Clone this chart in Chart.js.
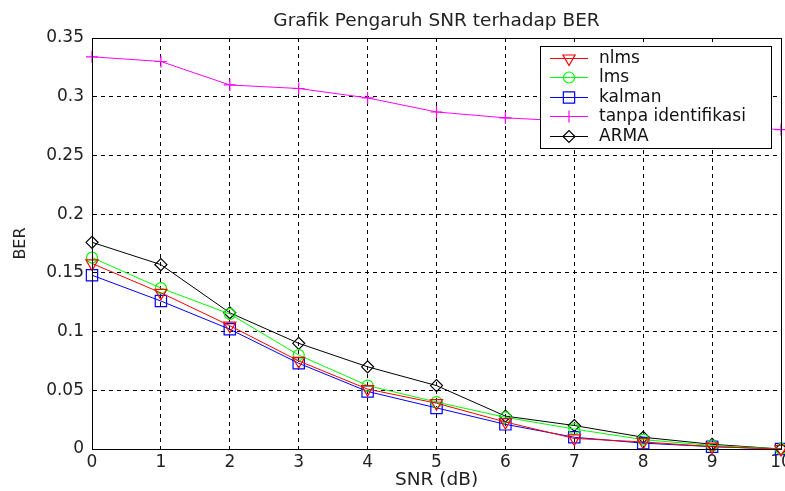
<!DOCTYPE html>
<html>
<head>
<meta charset="utf-8">
<script src="https://cdn.jsdelivr.net/npm/chart.js@4/dist/chart.umd.min.js"></script>
<style>
  html, body { margin: 0; padding: 0; background: #fff; }
  #wrap { width: 785px; height: 491px; }
</style>
</head>
<body>
<div id="wrap"><canvas id="c" width="785" height="491"></canvas></div>
<script>
const snr = [0, 1, 2, 3, 4, 5, 6, 7, 8, 9, 10];
const nlms = [0.158, 0.133, 0.105, 0.075, 0.051, 0.039, 0.023, 0.009, 0.006, 0.002, 0.000];
const lms = [0.163, 0.137, 0.115, 0.080, 0.054, 0.040, 0.027, 0.017, 0.008, 0.003, 0.000];
const kalman = [0.148, 0.126, 0.102, 0.073, 0.049, 0.035, 0.021, 0.010, 0.005, 0.002, 0.000];
const tanpa = [0.334, 0.330, 0.310, 0.307, 0.299, 0.287, 0.282, 0.279, 0.277, 0.275, 0.272];
const arma = [0.176, 0.157, 0.116, 0.090, 0.070, 0.054, 0.028, 0.020, 0.010, 0.004, 0.000];
const yTickLabels = ['0', '0.05', '0.1', '0.15', '0.2', '0.25', '0.3', '0.35'];
const xTickLabels = ['0', '1', '2', '3', '4', '5', '6', '7', '8', '9', '10'];
const seriesNames = ['nlms', 'lms', 'kalman', 'tanpa identifikasi', 'ARMA'];

const FONT = 'DejaVu Sans';

function pts(arr) { return snr.map((x, i) => ({ x: x, y: arr[i] })); }

function ds(label, arr, color, style, rot, radius) {
  return {
    label: label,
    data: pts(arr),
    borderColor: color,
    backgroundColor: 'rgba(0,0,0,0)',
    borderWidth: 1,
    pointStyle: style,
    rotation: rot,
    pointRadius: radius,
    pointHoverRadius: radius,
    pointBorderColor: color,
    pointBackgroundColor: 'rgba(0,0,0,0)',
    pointBorderWidth: 1.2,
    tension: 0,
    fill: false,
    clip: false
  };
}

const boxPlugin = {
  id: 'box',
  afterDraw(chart) {
    const { ctx, chartArea: a } = chart;
    ctx.save();
    ctx.strokeStyle = '#000';
    ctx.lineWidth = 1;
    ctx.strokeRect(Math.round(a.left) + 0.5, Math.round(a.top) + 0.5,
                   Math.round(a.right - a.left), Math.round(a.bottom - a.top));
    // legend box
    const lx = 540, ly = 46, lw = 231, lh = 102;
    ctx.fillStyle = '#fff';
    ctx.fillRect(lx, ly, lw, lh);
    ctx.strokeStyle = '#000';
    ctx.strokeRect(lx + 0.5, ly + 0.5, lw, lh);
    const rows = [58, 77, 97, 116, 136];
    chart.data.datasets.forEach((d, i) => {
      const y = rows[i];
      ctx.strokeStyle = d.borderColor;
      ctx.lineWidth = 1;
      ctx.beginPath();
      ctx.moveTo(550, y + 0.5);
      ctx.lineTo(588, y + 0.5);
      ctx.stroke();
      ctx.fillStyle = 'rgba(0,0,0,0)';
      ctx.strokeStyle = d.borderColor;
      ctx.lineWidth = 1.2;
      Chart.helpers.drawPoint(ctx, {
        pointStyle: d.pointStyle,
        rotation: d.rotation,
        radius: d.pointRadius,
        borderWidth: 1.2
      }, 569, y + 0.5);
      ctx.fillStyle = '#111';
      ctx.font = '17px "' + FONT + '"';
      ctx.textBaseline = 'middle';
      ctx.textAlign = 'left';
      ctx.fillText(d.label, 599, y + 1);
    });
    ctx.restore();
  }
};

const chart = new Chart(document.getElementById('c'), {
  type: 'line',
  data: {
    datasets: [
      ds(seriesNames[0], nlms, '#ff0000', 'triangle', 180, 7),
      ds(seriesNames[1], lms, '#00ff00', 'circle', 5.5 > 0 ? 0 : 0, 5.5),
      ds(seriesNames[2], kalman, '#0000ff', 'rect', 0, 8),
      ds(seriesNames[3], tanpa, '#ff00ff', 'cross', 0, 6),
      ds(seriesNames[4], arma, '#000000', 'rectRot', 0, 6)
    ]
  },
  options: {
    responsive: false,
    animation: false,
    layout: { autoPadding: false, padding: { left: 0, right: 4, top: 0, bottom: 0 } },
    plugins: {
      legend: { display: false },
      tooltip: { enabled: false },
      title: {
        display: true,
        fullSize: false,
        text: 'Grafik Pengaruh SNR terhadap BER',
        color: '#222',
        font: { family: FONT, size: 18.5, weight: 'normal', lineHeight: 1.2 },
        padding: { top: 10, bottom: 5.8 }
      }
    },
    scales: {
      x: {
        type: 'linear',
        min: 0, max: 10,
        ticks: {
          stepSize: 1,
          color: '#222',
          font: { family: FONT, size: 17 },
          padding: 3,
          maxRotation: 0,
          callback: (v) => xTickLabels[Math.round(v)] ?? ''
        },
        grid: { color: '#000', lineWidth: 1, drawTicks: false },
        border: { display: true, color: '#000', width: 1, dash: [4, 4] },
        title: {
          display: true, text: 'SNR (dB)', color: '#222',
          font: { family: FONT, size: 18.5 }, padding: { top: 0, bottom: 0 }
        },
        afterFit: (s) => { s.height = 42; s.paddingLeft = 0; s.paddingRight = 0; }
      },
      y: {
        min: 0, max: 0.35,
        ticks: {
          stepSize: 0.05,
          color: '#222',
          font: { family: FONT, size: 17 },
          padding: 8,
          callback: (v) => yTickLabels[Math.round(v / 0.05)] ?? ''
        },
        grid: { color: '#000', lineWidth: 1, drawTicks: false },
        border: { display: true, color: '#000', width: 1, dash: [4, 4] },
        title: {
          display: true, text: 'BER', color: '#222',
          font: { family: FONT, size: 16 }, padding: { top: 11, bottom: 0 }
        },
        afterFit: (s) => { s.width = 92; s.paddingTop = 0; s.paddingBottom = 0; }
      }
    }
  },
  plugins: [boxPlugin]
});
</script>
</body>
</html>
